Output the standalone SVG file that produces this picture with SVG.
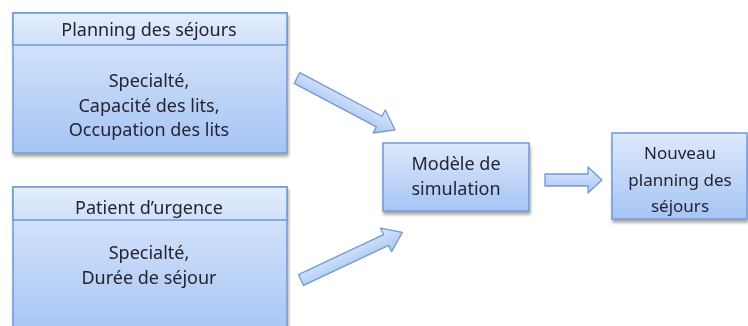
<svg xmlns="http://www.w3.org/2000/svg" width="748" height="326" viewBox="0 0 748 326">
<defs>
<linearGradient id="gBody" x1="0" y1="0" x2="0" y2="1">
<stop offset="0" stop-color="#dde9fc"/>
<stop offset="1" stop-color="#a6c4f4"/>
</linearGradient>
<linearGradient id="gHead" x1="0" y1="0" x2="0" y2="1">
<stop offset="0" stop-color="#e4eefd"/>
<stop offset="1" stop-color="#cfdff9"/>
</linearGradient>
<linearGradient id="gArrow" x1="0" y1="0" x2="0" y2="1">
<stop offset="0" stop-color="#dbe7fb"/>
<stop offset="1" stop-color="#a9c6f4"/>
</linearGradient>
<filter id="sh" x="-10%" y="-10%" width="125%" height="135%">
<feGaussianBlur in="SourceAlpha" stdDeviation="1.6"/>
<feOffset dx="1" dy="2.5" result="b"/>
<feComponentTransfer><feFuncA type="linear" slope="0.35"/></feComponentTransfer>
<feMerge><feMergeNode/><feMergeNode in="SourceGraphic"/></feMerge>
</filter>
</defs>
<style>
.box{fill:url(#gBody);stroke:#7199d2;stroke-width:1.5}
.head{fill:url(#gHead);stroke:#7199d2;stroke-width:1.5}
.arr{fill:url(#gArrow);stroke:#7199d2;stroke-width:1.3;stroke-linejoin:round}
text{font-family:"Noto Sans","Liberation Sans",sans-serif;font-size:18px;fill:#262230;text-anchor:middle}
.sm{font-size:17px}
</style>
<g id="node-planning" filter="url(#sh)">
<rect class="box" x="13" y="13" width="274" height="140"/>
<rect class="head" x="13" y="13" width="274" height="32"/>
<text x="149" y="36">Planning des séjours</text>
<text x="149" y="87">Specialté,</text>
<text x="149" y="112">Capacité des lits,</text>
<text x="149" y="136">Occupation des lits</text>
</g>
<g id="node-patient" filter="url(#sh)">
<rect class="box" x="13" y="187" width="274" height="150"/>
<rect class="head" x="13" y="187" width="274" height="33"/>
<text x="149" y="214">Patient d’urgence</text>
<text x="149" y="259">Specialté,</text>
<text x="149" y="284">Durée de séjour</text>
</g>
<g id="node-modele" filter="url(#sh)">
<rect class="box" x="383" y="143" width="146" height="68"/>
<text x="456" y="170">Modèle de</text>
<text x="456" y="195">simulation</text>
</g>
<g id="node-nouveau" filter="url(#sh)">
<rect class="box" x="612" y="133" width="135" height="86"/>
<text class="sm" x="680" y="159">Nouveau</text>
<text class="sm" x="680" y="186">planning des</text>
<text class="sm" x="680" y="212">séjours</text>
</g>
<g id="connectors">
<polygon class="arr" transform="translate(297,78) rotate(27.9)" points="0,-6 93,-6 93,-13 111,0 93,13 93,6 0,6"/>
<polygon class="arr" transform="translate(301,280) rotate(-25.2)" points="0,-6 94,-6 94,-13 112,0 94,13 94,6 0,6"/>
<polygon class="arr" points="545,174 588,174 588,167 602,180 588,193 588,186 545,186"/>
</g>
</svg>
